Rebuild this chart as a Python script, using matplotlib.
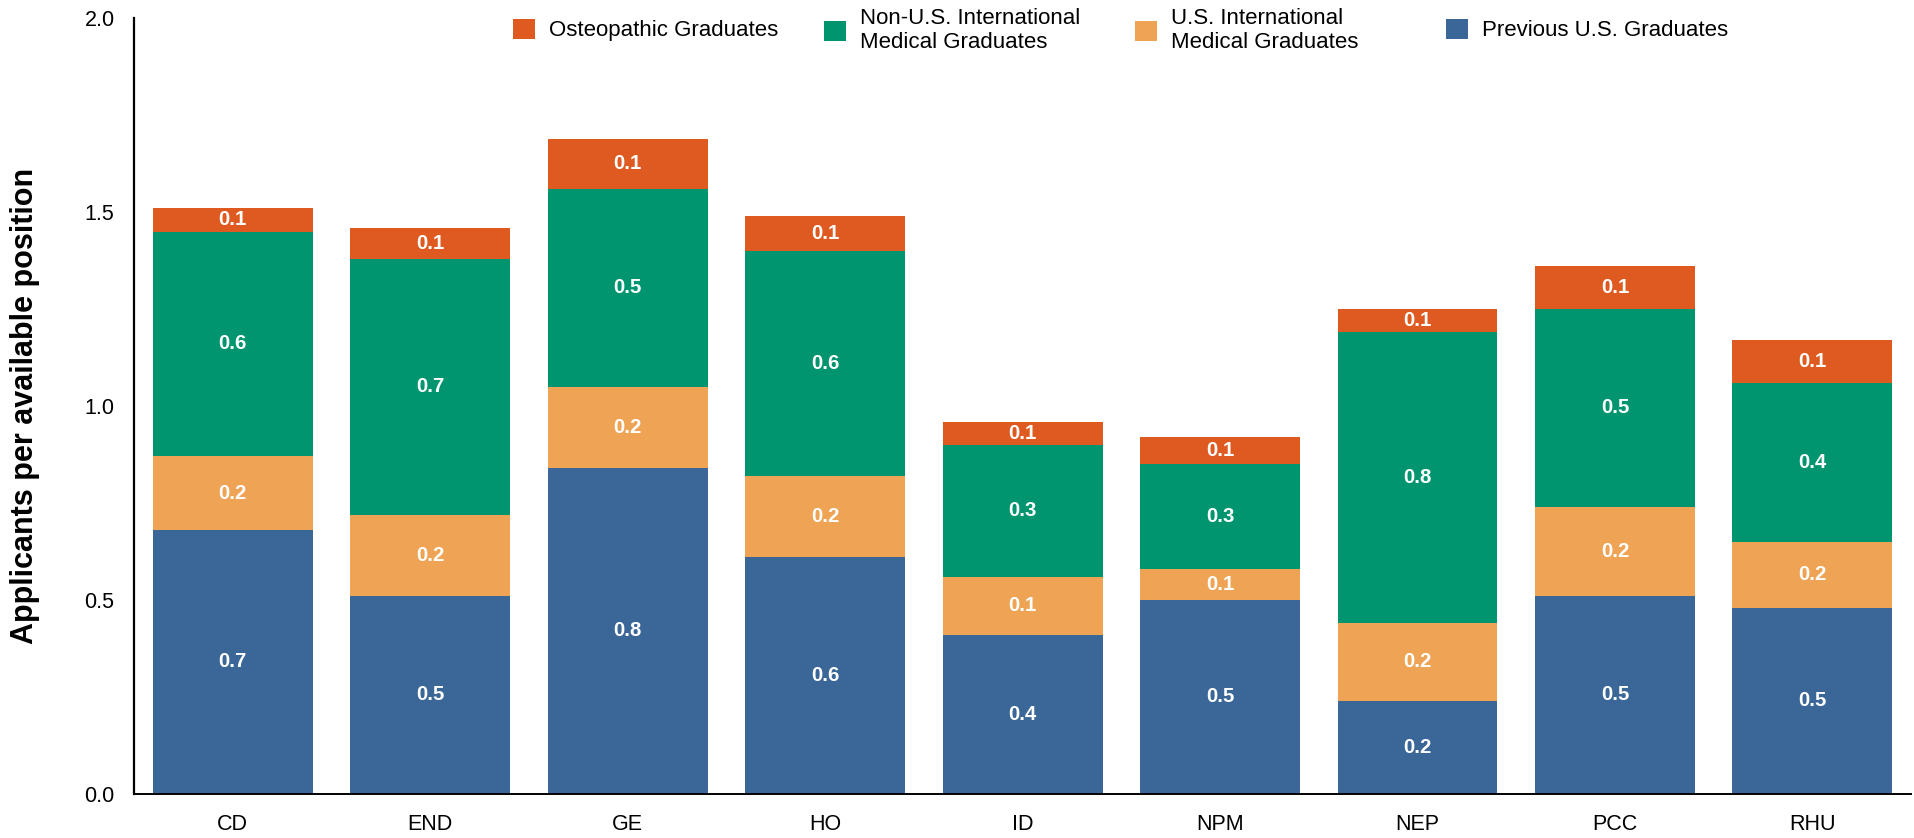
import numpy as np
import matplotlib
matplotlib.use("Agg")
import matplotlib.pyplot as plt

plt.rcParams['font.family'] = ['Liberation Sans', 'DejaVu Sans']

# data
specialties = ["CD", "END", "GE", "HO", "ID", "NPM", "NEP", "PCC", "RHU"]
previous_us = [0.68, 0.51, 0.84, 0.61, 0.41, 0.50, 0.24, 0.51, 0.48]
us_img = [0.19, 0.21, 0.21, 0.21, 0.15, 0.08, 0.20, 0.23, 0.17]
non_us_img = [0.58, 0.66, 0.51, 0.58, 0.34, 0.27, 0.75, 0.51, 0.41]
osteopathic = [0.06, 0.08, 0.13, 0.09, 0.06, 0.07, 0.06, 0.11, 0.11]

series = [
    ("Previous U.S. Graduates", previous_us, "#3a6698"),
    ("U.S. International\nMedical Graduates", us_img, "#eea454"),
    ("Non-U.S. International\nMedical Graduates", non_us_img, "#00956f"),
    ("Osteopathic Graduates", osteopathic, "#de5a20"),
]

fig = plt.figure(figsize=(19.15, 8.38), dpi=100)
ax = fig.add_axes([0.070, 0.053, 0.928, 0.925])

x = np.arange(len(specialties))
bottom = np.zeros(len(specialties))
handles = {}
for name, vals, color in series:
    vals = np.array(vals)
    bars = ax.bar(x, vals, width=0.81, bottom=bottom, color=color, label=name)
    handles[name] = bars
    for xi, b, v in zip(x, bottom, vals):
        ax.text(xi, b + v / 2, f"{v:.1f}", ha="center", va="center",
                color="white", fontsize=14.7, fontweight="bold")
    bottom = bottom + vals

ax.set_xlim(-0.5, 8.5)
ax.set_ylim(0, 2.0)
ax.set_yticks([0.0, 0.5, 1.0, 1.5, 2.0])
ax.set_yticklabels(["0.0", "0.5", "1.0", "1.5", "2.0"])
ax.set_xticks(x)
ax.set_xticklabels(specialties)
ax.tick_params(axis="y", length=0, pad=14, labelsize=15.5)
ax.tick_params(axis="x", length=0, pad=14.5, labelsize=15.5)

for s in ["top", "right"]:
    ax.spines[s].set_visible(False)
ax.spines["left"].set_linewidth(1.6)
ax.spines["bottom"].set_linewidth(1.4)

ax.set_ylabel("Applicants per available position", fontsize=22, fontweight="bold")
ax.yaxis.set_label_coords(-0.053, 0.5)

# legend: four equal-width columns across the top
order = ["Osteopathic Graduates", "Non-U.S. International\nMedical Graduates",
         "U.S. International\nMedical Graduates", "Previous U.S. Graduates"]
for i, n in enumerate(order):
    leg = fig.legend([handles[n]], [n], loc="center left",
                     bbox_to_anchor=((513 + 311 * i) / 1915, 0.964),
                     frameon=False, fontsize=16, borderpad=0, borderaxespad=0,
                     handlelength=1.0, handleheight=1.0, handletextpad=0.6)

fig.savefig("out.png", dpi=100)
